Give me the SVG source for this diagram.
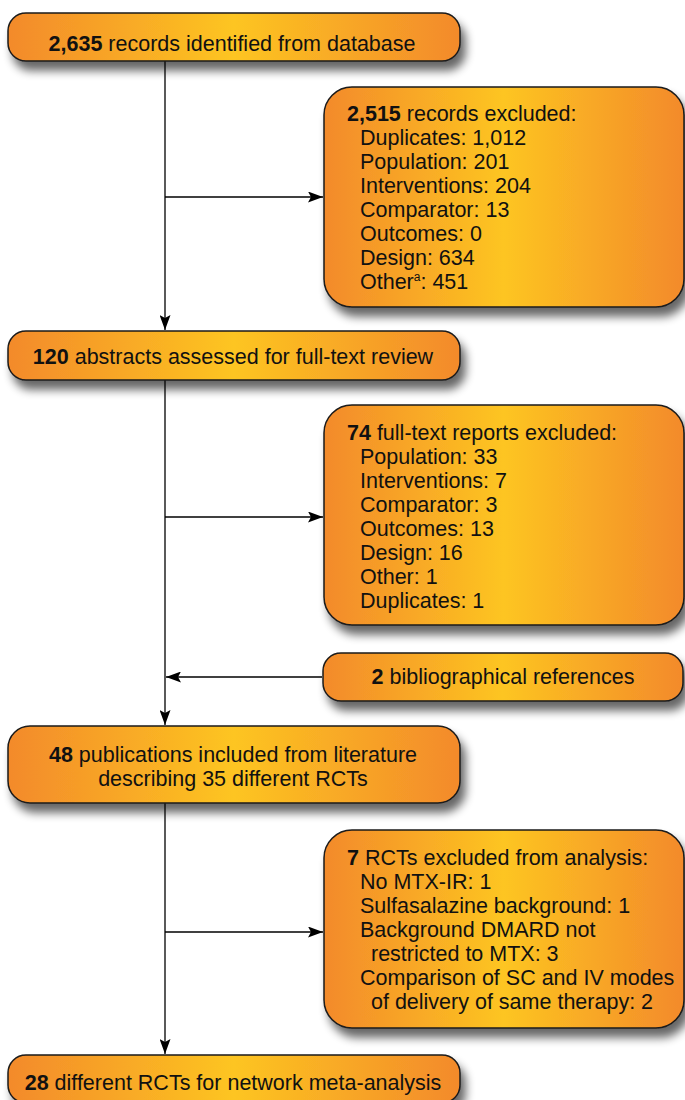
<svg xmlns="http://www.w3.org/2000/svg" width="685" height="1100" viewBox="0 0 685 1100">
<defs>
<linearGradient id="g" x1="0" y1="0" x2="1" y2="0">
<stop offset="0" stop-color="#F38A2B"/>
<stop offset="0.5" stop-color="#FDC521"/>
<stop offset="1" stop-color="#F38A2B"/>
</linearGradient>
<filter id="sh" x="-10%" y="-20%" width="130%" height="160%">
<feGaussianBlur in="SourceAlpha" stdDeviation="5"/>
<feOffset dx="5" dy="9" result="b"/>
<feComponentTransfer><feFuncA type="linear" slope="0.6"/></feComponentTransfer>
<feMerge><feMergeNode/><feMergeNode in="SourceGraphic"/></feMerge>
</filter>
<marker id="ah" viewBox="0 0 15 11" refX="15" refY="5.5" markerWidth="15" markerHeight="11" markerUnits="userSpaceOnUse" orient="auto">
<path d="M0,0 L15,5.5 L0,11 L3,5.5 Z" fill="#000"/>
</marker>
</defs>
<style>
.box{fill:url(#g);stroke:#1a1a1a;stroke-width:1.5;filter:url(#sh)}
text{font-family:"Liberation Sans",Arial,sans-serif;font-size:21.5px;fill:#111}
.c{text-anchor:middle}
.b{font-weight:bold}
.ln{stroke:#000;stroke-width:1.3;fill:none}
</style>
<rect width="685" height="1100" fill="#fff"/>
<g id="connectors">
<line class="ln" x1="165" y1="61" x2="165" y2="330" marker-end="url(#ah)"/>
<line class="ln" x1="165" y1="197" x2="323" y2="197" marker-end="url(#ah)"/>
<line class="ln" x1="165" y1="380" x2="165" y2="725" marker-end="url(#ah)"/>
<line class="ln" x1="165" y1="517" x2="323" y2="517" marker-end="url(#ah)"/>
<line class="ln" x1="322" y1="677" x2="166" y2="677" marker-end="url(#ah)"/>
<line class="ln" x1="165" y1="803" x2="165" y2="1054" marker-end="url(#ah)"/>
<line class="ln" x1="165" y1="932" x2="323" y2="932" marker-end="url(#ah)"/>
</g>
<g id="n1">
<rect class="box" x="8" y="13" width="452" height="48" rx="18"/>
<text class="c" x="232" y="51"><tspan class="b">2,635</tspan> records identified from database</text>
</g>
<g id="n2">
<rect class="box" x="324" y="87" width="360" height="220" rx="28"/>
<text x="347" y="121"><tspan class="b">2,515</tspan> records excluded:</text>
<text x="360" y="145">Duplicates: 1,012</text>
<text x="360" y="169">Population: 201</text>
<text x="360" y="193">Interventions: 204</text>
<text x="360" y="217">Comparator: 13</text>
<text x="360" y="241">Outcomes: 0</text>
<text x="360" y="265">Design: 634</text>
<text x="360" y="289">Other<tspan font-size="12" dy="-8">a</tspan><tspan dy="8">: 451</tspan></text>
</g>
<g id="n3">
<rect class="box" x="8" y="331" width="452" height="49" rx="18"/>
<text class="c" x="233" y="364"><tspan class="b">120</tspan> abstracts assessed for full-text review</text>
</g>
<g id="n4">
<rect class="box" x="324" y="405" width="360" height="220" rx="28"/>
<text x="347" y="440"><tspan class="b">74</tspan> full-text reports excluded:</text>
<text x="360" y="464">Population: 33</text>
<text x="360" y="488">Interventions: 7</text>
<text x="360" y="512">Comparator: 3</text>
<text x="360" y="536">Outcomes: 13</text>
<text x="360" y="560">Design: 16</text>
<text x="360" y="584">Other: 1</text>
<text x="360" y="608">Duplicates: 1</text>
</g>
<g id="n5">
<rect class="box" x="323" y="653" width="360" height="48" rx="18"/>
<text class="c" x="503" y="684"><tspan class="b">2</tspan> bibliographical references</text>
</g>
<g id="n6">
<rect class="box" x="8" y="726" width="452" height="77" rx="22"/>
<text class="c" x="233" y="762"><tspan class="b">48</tspan> publications included from literature</text>
<text class="c" x="233" y="786">describing 35 different RCTs</text>
</g>
<g id="n7">
<rect class="box" x="324" y="830" width="360" height="198" rx="28"/>
<text x="347" y="865"><tspan class="b">7</tspan> RCTs excluded from analysis:</text>
<text x="360" y="889">No MTX-IR: 1</text>
<text x="360" y="913">Sulfasalazine background: 1</text>
<text x="360" y="937">Background DMARD not</text>
<text x="371" y="961">restricted to MTX: 3</text>
<text x="360" y="985">Comparison of SC and IV modes</text>
<text x="371" y="1009">of delivery of same therapy: 2</text>
</g>
<g id="n8">
<rect class="box" x="8" y="1055" width="452" height="48" rx="18"/>
<text class="c" x="233" y="1090"><tspan class="b">28</tspan> different RCTs for network meta-analysis</text>
</g>
</svg>
